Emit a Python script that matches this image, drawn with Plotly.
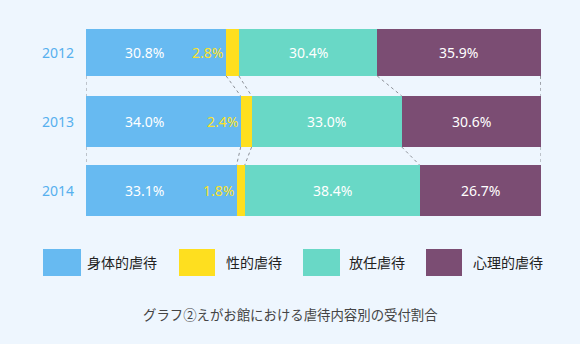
import plotly.graph_objects as go

# Share of received abuse consultations by type, per year
years = ["2012", "2013", "2014"]
physical = [30.8, 34.0, 33.1]      # 身体的虐待
sexual = [2.8, 2.4, 1.8]           # 性的虐待
neglect = [30.4, 33.0, 38.4]       # 放任虐待
psychological = [35.9, 30.6, 26.7] # 心理的虐待

series_names = ["身体的虐待", "性的虐待", "放任虐待", "心理的虐待"]
series_values = [physical, sexual, neglect, psychological]
series_colors = ["#67baf1", "#fedf1f", "#69d8c6", "#7b4d73"]

caption = "グラフ②えがお館における虐待内容別の受付割合"

bar_widths = [0.68, 0.74, 0.74]
ypos = list(range(len(years)))

FONT = "Noto Sans, Noto Sans CJK JP, sans-serif"
BG = "#eef6fe"

fig = go.Figure()

for name, vals, col in zip(series_names, series_values, series_colors):
    fig.add_trace(go.Bar(
        y=ypos, x=vals, name=name, orientation="h",
        marker=dict(color=col, line=dict(width=0)),
        width=bar_widths, showlegend=False, hoverinfo="x+name",
    ))

# cumulative boundaries of each stacked bar
bounds = []
for i in range(len(years)):
    acc = [0.0]
    for vals in series_values:
        acc.append(acc[-1] + vals[i])
    bounds.append(acc)

# dotted connectors between consecutive bars
cx, cy = [], []
for i in range(len(years) - 1):
    y0 = ypos[i] + bar_widths[i] / 2
    y1 = ypos[i + 1] - bar_widths[i + 1] / 2
    for a, b in zip(bounds[i], bounds[i + 1]):
        cx += [a, b, None]
        cy += [y0, y1, None]
fig.add_trace(go.Scatter(
    x=cx, y=cy, mode="lines", showlegend=False, hoverinfo="skip",
    line=dict(color="#8c9097", width=1, dash="dot"),
))

LABEL_SIZE = 14

annotations = []
for i, yr in enumerate(years):
    # year label
    annotations.append(dict(
        x=0, xref="paper", y=ypos[i], yref="y", text=yr, showarrow=False,
        xanchor="right", xshift=-10, font=dict(family=FONT, size=14, color="#56b0ee"),
    ))
    # physical abuse label sits at a fixed spot inside the blue segment
    annotations.append(dict(
        x=0.1275, xref="paper", y=ypos[i], yref="y", text=f"{physical[i]:.1f}%",
        showarrow=False, xanchor="center",
        font=dict(family=FONT, size=LABEL_SIZE, color="#ffffff"),
    ))
    # sexual abuse label placed just left of its thin segment
    annotations.append(dict(
        x=bounds[i][1], xref="x", y=ypos[i], yref="y", text=f"{sexual[i]:.1f}%",
        showarrow=False, xanchor="right", xshift=-1,
        font=dict(family=FONT, size=LABEL_SIZE, color="#fbe22a"),
    ))
    # neglect and psychological labels centred in their segments
    for k in (2, 3):
        mid = (bounds[i][k] + bounds[i][k + 1]) / 2
        annotations.append(dict(
            x=mid, xref="x", y=ypos[i], yref="y",
            text=f"{series_values[k][i]:.1f}%", showarrow=False, xanchor="center",
            font=dict(family=FONT, size=LABEL_SIZE, color="#ffffff"),
        ))

# custom legend: swatches + labels in pixel-aligned paper coordinates
W, H = 580, 344
L, R, T, B = 86, 39, 18, 119
pw, ph = W - L - R, H - T - B

def px_x(p):
    return (p - L) / pw

def px_y(p):
    return 1 - (p - T) / ph

swatches = [(43, 81, 85), (179, 215, 224), (303, 340, 347), (426, 462, 471)]
shapes = []
for (x0, x1, tx), name, col in zip(swatches, series_names, series_colors):
    shapes.append(dict(
        type="rect", xref="paper", yref="paper",
        x0=px_x(x0), x1=px_x(x1), y0=px_y(276), y1=px_y(249),
        fillcolor=col, line=dict(width=0),
    ))
    annotations.append(dict(
        x=px_x(tx), xref="paper", y=px_y(262.5), yref="paper", text=name,
        showarrow=False, xanchor="left", yanchor="middle",
        font=dict(family=FONT, size=14, color="#222222"),
    ))

annotations.append(dict(
    x=px_x(290), xref="paper", y=px_y(315), yref="paper", text=caption,
    showarrow=False, xanchor="center", yanchor="middle",
    font=dict(family=FONT, size=13.4, color="#444444"),
))

fig.update_layout(
    barmode="stack",
    width=W, height=H,
    margin=dict(l=L, r=R, t=T, b=B, pad=0),
    paper_bgcolor=BG, plot_bgcolor=BG,
    xaxis=dict(range=[0, 100], visible=False, fixedrange=True),
    yaxis=dict(range=[2.5, -0.5], visible=False, fixedrange=True),
    annotations=annotations,
    shapes=shapes,
    showlegend=False,
)

fig.write_html("out.html")
